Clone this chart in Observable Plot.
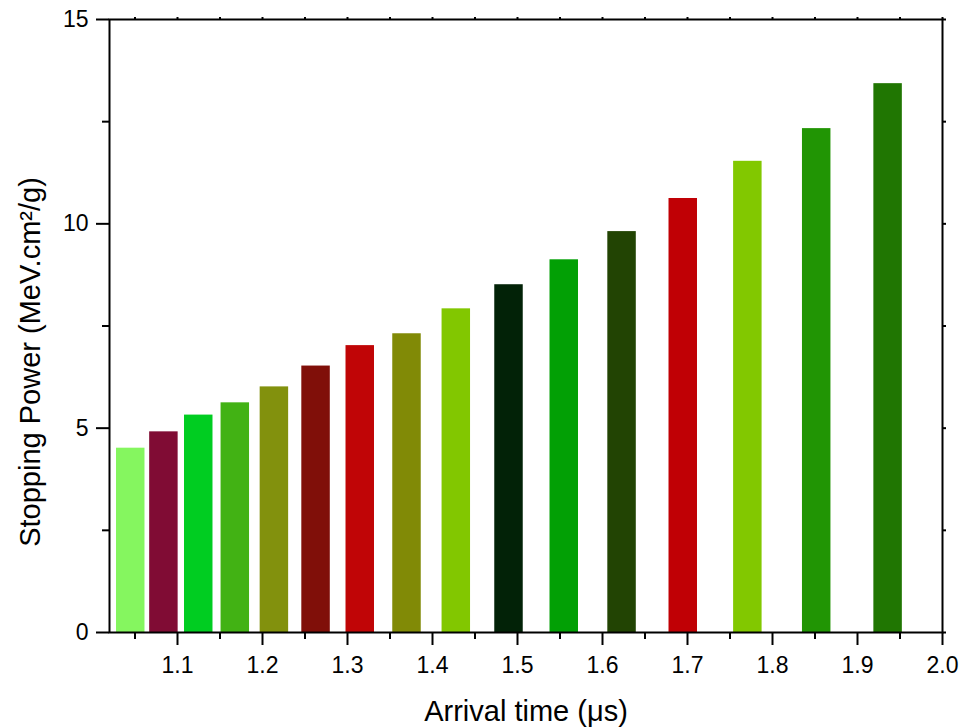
<!DOCTYPE html>
<html>
<head>
<meta charset="utf-8">
<script src="https://cdn.jsdelivr.net/npm/d3@7"></script>
<script src="https://cdn.jsdelivr.net/npm/@observablehq/plot@0.6"></script>
<style>
  html, body { margin: 0; padding: 0; background: #ffffff; }
  #chart svg { display: block; }
  #chart svg g[aria-label="x-axis tick label"],
  #chart svg g[aria-label="y-axis tick label"],
  #chart svg g[aria-label="x-axis tick label"] text,
  #chart svg g[aria-label="y-axis tick label"] text { font-size: 23px !important; }
</style>
</head>
<body>
<div id="chart"></div>
<script>
// ---- data ----
const arrivalTimes = [1.045, 1.084, 1.125, 1.168, 1.214, 1.263, 1.315, 1.370,
                      1.428, 1.490, 1.555, 1.623, 1.695, 1.771, 1.852, 1.936];
const stoppingPower = [4.51, 4.91, 5.32, 5.62, 6.01, 6.52, 7.02, 7.31,
                       7.92, 8.51, 9.12, 9.81, 10.62, 11.53, 12.33, 13.43];
const barColors = ["#85f65f", "#800c34", "#00cd21", "#42b214", "#82910d", "#800f09",
                   "#c00506", "#818a06", "#82c700", "#022207", "#02a005", "#224403",
                   "#c00005", "#82c800", "#219504", "#207602"];
const xTickValues = [1.1, 1.2, 1.3, 1.4, 1.5, 1.6, 1.7, 1.8, 1.9, 2.0];
const xMinorTicks = [1.05, 1.15, 1.25, 1.35, 1.45, 1.55, 1.65, 1.75, 1.85, 1.95];
const yTickValues = [0, 5, 10, 15];
const yMinorTicks = [2.5, 7.5, 12.5];
const xTitle = "Arrival time (\u03bcs)";
const yTitle = "Stopping Power (MeV.cm\u00b2/g)";

// ---- table built from the arrays ----
const barWidth = 0.0335;
const bars = arrivalTimes.map((t, i) => ({t, v: stoppingPower[i], color: barColors[i]}));

const font = "'Liberation Sans', Arial, Helvetica, sans-serif";

const chart = Plot.plot({
  width: 962,
  height: 727,
  marginLeft: 109,
  marginRight: 20,
  marginTop: 19,
  marginBottom: 95,
  style: {fontFamily: font, fontSize: "23px", color: "#000", background: "#fff", overflow: "visible"},
  x: {domain: [1.02, 2.0]},
  y: {domain: [0, 15]},
  marks: [
    Plot.rectY(bars, {
      x1: d => d.t - barWidth / 2,
      x2: d => d.t + barWidth / 2,
      y1: 0,
      y2: "v",
      fill: d => d.color
    }),
    Plot.frame({stroke: "#000", strokeWidth: 2}),
    // bottom axis
    Plot.axisX({anchor: "bottom", ticks: xTickValues, tickSize: 13, tickPadding: 11,
                tickFormat: d3.format(".1f"), strokeWidth: 2, label: null, fontSize: 23}),
    Plot.axisX({anchor: "bottom", ticks: xMinorTicks, tickSize: 7,
                tickFormat: () => "", strokeWidth: 2, label: null}),
    // left axis
    Plot.axisY({anchor: "left", ticks: yTickValues, tickSize: 13, tickPadding: 8,
                tickFormat: d3.format("d"), strokeWidth: 2, label: null, fontSize: 23}),
    Plot.axisY({anchor: "left", ticks: yMinorTicks, tickSize: 7,
                tickFormat: () => "", strokeWidth: 2, label: null}),
    // top & right small ticks
    Plot.axisX({anchor: "top", ticks: xTickValues.concat(xMinorTicks), tickSize: 3,
                tickFormat: () => "", strokeWidth: 2, label: null}),
    Plot.axisY({anchor: "right", ticks: yTickValues.concat(yMinorTicks), tickSize: 3,
                tickFormat: () => "", strokeWidth: 2, label: null}),
    // axis titles
    Plot.text([xTitle], {text: d => d, frameAnchor: "bottom", lineAnchor: "bottom",
                         textAnchor: "middle", dy: 88, fontSize: 29, fill: "#000"}),
    Plot.text([yTitle], {text: d => d, frameAnchor: "left", lineAnchor: "bottom",
                         textAnchor: "middle", rotate: -90, dx: -70, dy: 36, fontSize: 29, fill: "#000"})
  ]
});
document.getElementById("chart").appendChild(chart);
</script>
</body>
</html>
